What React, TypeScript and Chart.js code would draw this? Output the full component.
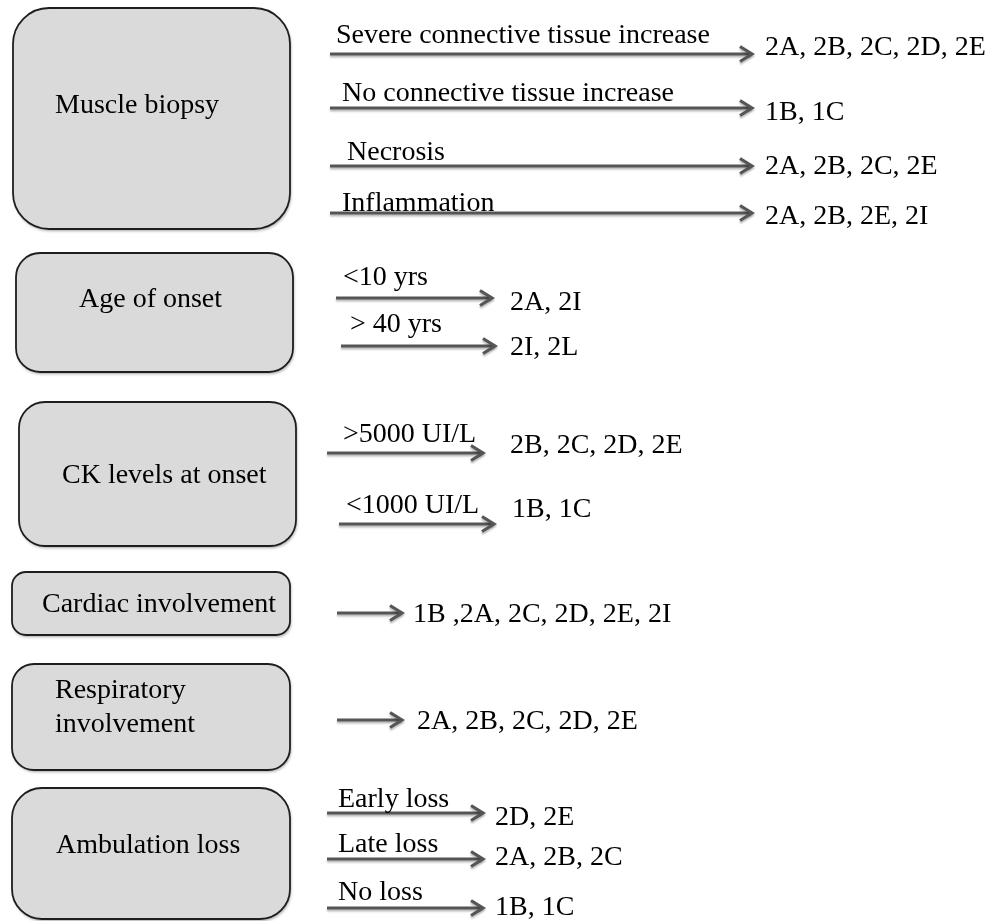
import { useEffect, useRef } from "react";
import { Chart, registerables } from "chart.js";

Chart.register(...registerables);

// ---------- content ----------
const categories = [
  "Muscle biopsy",
  "Age of onset",
  "CK levels at onset",
  "Cardiac involvement",
  "Respiratory\ninvolvement",
  "Ambulation loss",
];

const conditions = [
  "Severe connective tissue increase",
  "No connective tissue increase",
  "Necrosis",
  "Inflammation",
  "<10 yrs",
  "> 40 yrs",
  ">5000 UI/L",
  "<1000 UI/L",
  "",
  "",
  "Early loss",
  "Late loss",
  "No loss",
];

const subtypes = [
  "2A, 2B, 2C, 2D, 2E",
  "1B, 1C",
  "2A, 2B, 2C, 2E",
  "2A, 2B, 2E, 2I",
  "2A, 2I",
  "2I, 2L",
  "2B, 2C, 2D, 2E",
  "1B, 1C",
  "1B ,2A, 2C, 2D, 2E, 2I",
  "2A, 2B, 2C, 2D, 2E",
  "2D, 2E",
  "2A, 2B, 2C",
  "1B, 1C",
];

// ---------- layout (diagram coordinates) ----------
const W = 993;
const H = 921;
// box: [left, top, right, bottom, radius]
const boxRects = [
  [13, 8, 290, 229, 36],
  [16, 253, 293, 372, 24],
  [19, 402, 296, 546, 26],
  [12, 572, 290, 635, 14],
  [12, 664, 290, 770, 22],
  [12, 788, 290, 919, 30],
];
// box label: [left, first baseline, line gap]
const boxLabelPos = [
  [55, 113, 0],
  [79, 307, 0],
  [62, 483, 0],
  [42, 612, 0],
  [55, 698, 34],
  [56, 853, 0],
];
// arrow: [x start, x end, y]
const arrowPos = [
  [330, 752, 54],
  [330, 752, 108],
  [330, 752, 166],
  [330, 752, 213],
  [336, 492, 298],
  [341, 495, 346],
  [327, 483, 453],
  [339, 494, 524],
  [337, 402, 613],
  [337, 402, 720],
  [327, 483, 813],
  [327, 483, 859],
  [327, 483, 908],
];
// condition label: [left, baseline]
const conditionPos = [
  [336, 43],
  [342, 101],
  [347, 160],
  [342, 211],
  [343, 285],
  [350, 332],
  [343, 442],
  [346, 513],
  [0, 0],
  [0, 0],
  [338, 807],
  [338, 852],
  [338, 900],
];
// subtype label: [left, baseline]
const subtypePos = [
  [765, 55],
  [765, 120],
  [765, 174],
  [765, 224],
  [510, 310],
  [510, 355],
  [510, 453],
  [512, 517],
  [413, 622],
  [417, 729],
  [495, 825],
  [495, 865],
  [495, 915],
];

const FONT = '28px "Liberation Serif", "Times New Roman", serif';
const ARROW_COLOR = "#555555";
const TEXT_COLOR = "#000000";

const diagramPlugin = {
  id: "diagram",
  beforeDatasetsDraw(chart: any) {
    const { ctx, scales } = chart;
    const px = (v: number) => scales.x.getPixelForValue(v);
    const py = (v: number) => scales.y.getPixelForValue(v);
    // boxes
    boxRects.forEach(([l, t, r, b, rad]) => {
      const x0 = px(l), x1 = px(r), y0 = py(t), y1 = py(b);
      ctx.save();
      ctx.beginPath();
      ctx.roundRect(x0, y0, x1 - x0, y1 - y0, rad);
      ctx.shadowColor = "rgba(0,0,0,0.35)";
      ctx.shadowBlur = 3;
      ctx.shadowOffsetX = 1;
      ctx.shadowOffsetY = 2;
      ctx.fillStyle = "#dadada";
      ctx.fill();
      ctx.shadowColor = "transparent";
      ctx.lineWidth = 1.8;
      ctx.strokeStyle = "#1e1e1e";
      ctx.stroke();
      ctx.restore();
    });
    // shadow for arrows
    ctx.save();
    ctx.shadowColor = "rgba(0,0,0,0.28)";
    ctx.shadowBlur = 2;
    ctx.shadowOffsetX = 0;
    ctx.shadowOffsetY = 2;
  },
  afterDatasetsDraw(chart: any) {
    const { ctx, scales } = chart;
    const px = (v: number) => scales.x.getPixelForValue(v);
    const py = (v: number) => scales.y.getPixelForValue(v);
    // arrow heads
    arrowPos.forEach(([, x1, y]) => {
      const tx = px(x1), ty = py(y);
      ctx.beginPath();
      ctx.moveTo(tx - 12, ty - 7.5);
      ctx.lineTo(tx, ty);
      ctx.lineTo(tx - 12, ty + 7.5);
      ctx.lineWidth = 3.2;
      ctx.lineJoin = "miter";
      ctx.lineCap = "butt";
      ctx.strokeStyle = ARROW_COLOR;
      ctx.stroke();
    });
    ctx.restore();
  },
  afterDraw(chart: any) {
    const { ctx, scales } = chart;
    const px = (v: number) => scales.x.getPixelForValue(v);
    const py = (v: number) => scales.y.getPixelForValue(v);
    ctx.save();
    ctx.font = FONT;
    ctx.fillStyle = TEXT_COLOR;
    ctx.textAlign = "left";
    ctx.textBaseline = "alphabetic";
    categories.forEach((name, i) => {
      const [l, b, gap] = boxLabelPos[i];
      name.split("\n").forEach((line, j) => {
        ctx.fillText(line, px(l), py(b + j * gap));
      });
    });
    conditions.forEach((c, i) => {
      if (!c) return;
      const [l, b] = conditionPos[i];
      ctx.fillText(c, px(l), py(b));
    });
    subtypes.forEach((s, i) => {
      const [l, b] = subtypePos[i];
      ctx.fillText(s, px(l), py(b));
    });
    ctx.restore();
  },
};

export default function App() {
  const ref = useRef<HTMLCanvasElement>(null);
  useEffect(() => {
    document.body.style.margin = "0";
    const datasets = arrowPos.map(([x0, x1, y], i) => ({
      label: conditions[i] || categories[i === 8 ? 3 : 4],
      data: [
        { x: x0, y },
        { x: x1 - 1, y },
      ],
      showLine: true,
      pointRadius: 0,
      borderColor: ARROW_COLOR,
      borderWidth: 3.2,
      borderCapStyle: "butt" as const,
      fill: false,
    }));
    const chart = new Chart(ref.current as HTMLCanvasElement, {
      type: "scatter",
      data: { datasets },
      options: {
        responsive: false,
        animation: false,
        events: [],
        layout: { padding: 0 },
        plugins: {
          legend: { display: false },
          tooltip: { enabled: false },
        },
        scales: {
          x: { type: "linear", min: 0, max: W, display: false },
          y: { type: "linear", min: 0, max: H, reverse: true, display: false },
        },
      },
      plugins: [diagramPlugin],
    });
    return () => chart.destroy();
  }, []);
  return (
    <canvas
      ref={ref}
      width={W}
      height={H}
      style={{ display: "block", background: "#ffffff" }}
    />
  );
}
